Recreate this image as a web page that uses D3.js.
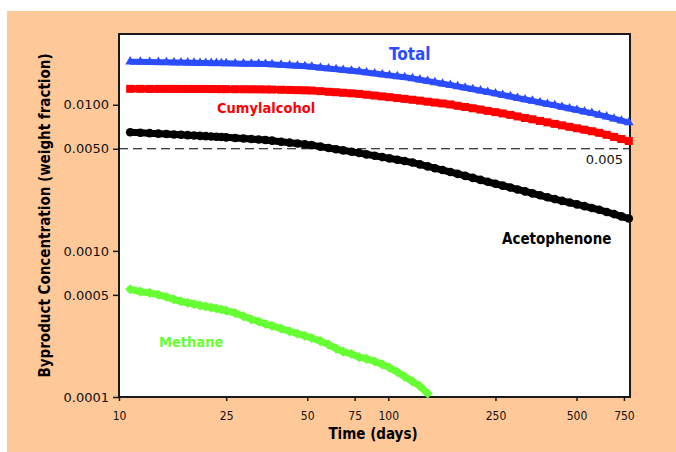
<!DOCTYPE html>
<html>
<head>
<meta charset="utf-8">
<script src="https://cdn.jsdelivr.net/npm/d3@7/dist/d3.min.js"></script>
<style>
  body { margin: 0; background: #fff; }
  svg { display: block; }
</style>
</head>
<body>
<div id="chart"></div>
<script>
// sample days (shared by all series)
var days = [11, 12, 13, 14, 15, 16, 17, 18, 19, 20, 21, 22, 23, 24, 25, 27, 29, 31, 33, 35,
    37, 40, 43, 46, 49, 52, 56, 60, 64, 68, 73, 78, 83, 89, 95, 101, 108, 115, 123, 131,
    140, 149, 159, 170, 181, 193, 206, 220, 234, 250, 266, 284, 302, 322, 343, 366, 390, 415, 442, 471,
    502, 535, 570, 607, 647, 689, 734, 782];

// Total
var total = [0.01972, 0.01966, 0.01960, 0.01957, 0.01954, 0.01948, 0.01945, 0.01942, 0.01939, 0.01933,
    0.01930, 0.01927, 0.01927, 0.01923, 0.01920, 0.01917, 0.01911, 0.01908, 0.01905, 0.01902,
    0.01890, 0.01875, 0.01861, 0.01846, 0.01834, 0.01820, 0.01794, 0.01772, 0.01750, 0.01730,
    0.01709, 0.01687, 0.01664, 0.01638, 0.01612, 0.01589, 0.01564, 0.01542, 0.01516, 0.01485,
    0.01453, 0.01423, 0.01394, 0.01366, 0.01336, 0.01307, 0.01277, 0.01249, 0.01222, 0.01193,
    0.01167, 0.01140, 0.01113, 0.01087, 0.01063, 0.01037, 0.01013, 0.00991, 0.00966, 0.00943,
    0.00920, 0.00897, 0.00876, 0.00852, 0.00829, 0.00803, 0.00778, 0.00755];

// Cumylalcohol
var cumyl = [0.01285, 0.01285, 0.01284, 0.01284, 0.01284, 0.01284, 0.01283, 0.01283, 0.01283, 0.01283,
    0.01283, 0.01281, 0.01281, 0.01279, 0.01279, 0.01277, 0.01277, 0.01275, 0.01275, 0.01273,
    0.01271, 0.01267, 0.01263, 0.01259, 0.01255, 0.01251, 0.01239, 0.01227, 0.01218, 0.01208,
    0.01197, 0.01187, 0.01172, 0.01156, 0.01141, 0.01127, 0.01111, 0.01097, 0.01082, 0.01067,
    0.01050, 0.01035, 0.01021, 0.01005, 0.00984, 0.00966, 0.00946, 0.00927, 0.00908, 0.00890,
    0.00872, 0.00852, 0.00832, 0.00812, 0.00795, 0.00775, 0.00758, 0.00740, 0.00723, 0.00706,
    0.00690, 0.00675, 0.00659, 0.00643, 0.00623, 0.00603, 0.00583, 0.00565];

// Acetophenone
var aceto = [0.006484, 0.006433, 0.006392, 0.006342, 0.006302, 0.006262, 0.006233, 0.006193, 0.006165, 0.006125,
    0.006097, 0.006068, 0.006039, 0.006011, 0.005983, 0.005927, 0.005871, 0.005824, 0.005779, 0.005743,
    0.005680, 0.005583, 0.005503, 0.005425, 0.005358, 0.005291, 0.005167, 0.005063, 0.004960, 0.004875,
    0.004768, 0.004671, 0.004576, 0.004476, 0.004385, 0.004296, 0.004209, 0.004124, 0.004022, 0.003909,
    0.003788, 0.003681, 0.003573, 0.003467, 0.003365, 0.003261, 0.003160, 0.003062, 0.002972, 0.002880,
    0.002795, 0.002713, 0.002633, 0.002555, 0.002475, 0.002402, 0.002327, 0.002262, 0.002199, 0.002141,
    0.002081, 0.002023, 0.001966, 0.001911, 0.001846, 0.001786, 0.001722, 0.001664];

// Methane (stops near 140 days)
var methane = [0.0005461, 0.0005258, 0.0005160, 0.0005008, 0.0004836, 0.0004656, 0.0004512, 0.0004414, 0.0004324, 0.0004236,
    0.0004163, 0.0004098, 0.0004034, 0.0003971, 0.0003896, 0.0003752, 0.0003567, 0.0003402, 0.0003287, 0.0003160,
    0.0003072, 0.0002935, 0.0002817, 0.0002713, 0.0002620, 0.0002534, 0.0002409, 0.0002284, 0.0002145, 0.0002042,
    0.0001969, 0.0001873, 0.0001826, 0.0001750, 0.0001672, 0.0001589, 0.0001483, 0.0001379, 0.0001279, 0.0001186,
    0.0001057];

var xTicks = [10, 25, 50, 75, 100, 250, 500, 750];
var yTicks = [0.0001, 0.0005, 0.001, 0.005, 0.01];
var limit = 0.005;

var W = 676, H = 452;
var plot = {left: 119, top: 34, right: 630, bottom: 397};

var svg = d3.select('#chart')
    .append('svg')
        .attr('width', W)
        .attr('height', H);

// orange panel + white plot area
svg.append('rect')
    .attr('x', 7).attr('y', 11)
    .attr('width', W - 7).attr('height', H - 11)
    .attr('fill', '#fec898');
svg.append('rect')
    .attr('x', plot.left).attr('y', plot.top)
    .attr('width', plot.right - plot.left).attr('height', plot.bottom - plot.top)
    .attr('fill', '#fff')
    .attr('stroke', '#1a1a1a')
    .attr('stroke-width', 2);

var x = d3.scaleLog()
    .domain([10, 790])
    .range([plot.left, plot.right]);

var y = d3.scaleLog()
    .domain([0.0001, 0.0305])
    .range([plot.bottom, plot.top]);

// X axis
var xAxis = svg.append('g')
    .attr('transform', 'translate(0,' + plot.bottom + ')')
    .call(d3.axisBottom(x).tickValues(xTicks).tickFormat(d3.format('d')).tickSize(4).tickPadding(10));
xAxis.select('.domain').remove();
xAxis.selectAll('line').attr('stroke', '#1a1a1a').attr('stroke-width', 1.5);
xAxis.selectAll('text')
    .style('font-family', '"DejaVu Sans Condensed", "DejaVu Sans", sans-serif')
    .style('font-size', '12px')
    .attr('fill', '#111');

// Y axis
var yAxis = svg.append('g')
    .attr('transform', 'translate(' + plot.left + ',0)')
    .call(d3.axisLeft(y).tickValues(yTicks).tickFormat(d3.format('.4f')).tickSize(6).tickPadding(4));
yAxis.select('.domain').remove();
yAxis.selectAll('line').attr('stroke', '#1a1a1a').attr('stroke-width', 1.5);
yAxis.selectAll('text')
    .style('font-family', '"DejaVu Sans", sans-serif')
    .style('font-size', '13px')
    .attr('fill', '#111');

// axis titles
svg.append('text')
    .attr('x', 373).attr('y', 439)
    .attr('text-anchor', 'middle')
    .style('font-family', '"DejaVu Sans Condensed", "Liberation Sans", sans-serif')
    .style('font-weight', 'bold')
    .style('font-size', '15px')
    .text('Time (days)');

svg.append('text')
    .attr('transform', 'translate(50,' + 215.5 + ') rotate(-90)')
    .attr('text-anchor', 'middle')
    .style('font-family', '"DejaVu Sans Condensed", "Liberation Sans", sans-serif')
    .style('font-weight', 'bold')
    .style('font-size', '15px')
    .text('Byproduct Concentration (weight fraction)');

// 0.005 limit line
svg.append('line')
    .attr('x1', plot.left).attr('x2', plot.right)
    .attr('y1', y(limit)).attr('y2', y(limit))
    .attr('stroke', '#000')
    .attr('stroke-width', 1.2)
    .attr('stroke-dasharray', '9,5');
svg.append('text')
    .attr('x', 623).attr('y', y(limit) + 15)
    .attr('text-anchor', 'end')
    .style('font-family', '"DejaVu Sans", sans-serif')
    .style('font-size', '13px')
    .attr('fill', '#111')
    .text('0.005');

var series = [
    {name: 'Total', values: total, color: '#2b4cff', symbol: d3.symbolTriangle, size: 40, rot: 0, band: 6},
    {name: 'Cumylalcohol', values: cumyl, color: '#ff0000', symbol: d3.symbolSquare, size: 64, rot: 0, band: 7},
    {name: 'Acetophenone', values: aceto, color: '#000000', symbol: d3.symbolCircle, size: 58, rot: 0, band: 7},
    {name: 'Methane', values: methane, color: '#66ff33', symbol: d3.symbolSquare, size: 52, rot: 45, band: 7}
];

var line = d3.line()
    .x(function(d) { return x(d[0]); })
    .y(function(d) { return y(d[1]); });

series.forEach(function(s) {
    var pts = s.values.map(function(v, i) { return [days[i], v]; });
    var g = svg.append('g');
    // band under the markers, the original markers sit so close they merge
    g.append('path')
        .datum(pts)
        .attr('fill', 'none')
        .attr('stroke', s.color)
        .attr('stroke-width', s.band)
        .attr('stroke-linejoin', 'round')
        .attr('d', line);
    g.selectAll('path.mark')
        .data(pts)
        .enter()
        .append('path')
            .attr('class', 'mark')
            .attr('d', d3.symbol().type(s.symbol).size(s.size))
            .attr('transform', function(d) {
                return 'translate(' + x(d[0]) + ',' + y(d[1]) + ') rotate(' + s.rot + ')';
            })
            .attr('fill', s.color);
});

// series labels
var labels = [
    {text: 'Total', x: 389, y: 60, color: '#2b4cff', size: 17},
    {text: 'Cumylalcohol', x: 217, y: 112.5, color: '#ff0000', size: 14.5},
    {text: 'Acetophenone', x: 502, y: 244, color: '#000000', size: 15},
    {text: 'Methane', x: 159, y: 347, color: '#66ff33', size: 14.5}
];
svg.selectAll('text.slabel')
    .data(labels)
    .enter()
    .append('text')
        .attr('class', 'slabel')
        .attr('x', function(d) { return d.x; })
        .attr('y', function(d) { return d.y; })
        .attr('fill', function(d) { return d.color; })
        .style('font-family', '"DejaVu Sans Condensed", "Liberation Sans", sans-serif')
        .style('font-weight', 'bold')
        .style('font-size', function(d) { return d.size + 'px'; })
        .text(function(d) { return d.text; });
</script>
</body>
</html>
